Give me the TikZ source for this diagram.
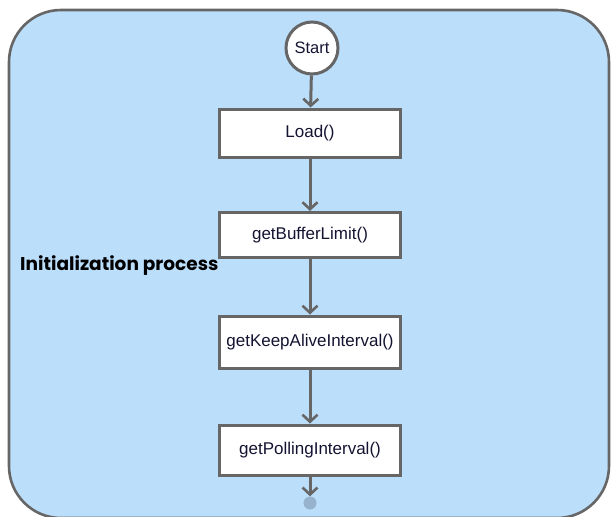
\documentclass[tikz,border=0pt]{standalone}
\usepackage{fontspec}
\setmainfont{Liberation Sans}
\newfontfamily\labelfont{Poppins}
\usetikzlibrary{arrows.meta}
\definecolor{bgblue}{RGB}{187,222,251}
\definecolor{edgegrey}{RGB}{102,102,102}
\definecolor{endblue}{RGB}{150,178,205}
\definecolor{txt}{RGB}{20,20,50}
\begin{document}
\begin{tikzpicture}[x=1pt,y=-1pt,
  stepbox/.style={draw=edgegrey,line width=3pt,fill=white,minimum width=181pt,minimum height=48pt,font=\fontsize{17}{19}\selectfont,text=txt,inner sep=0pt},
  flow/.style={draw=edgegrey,line width=3pt,-{Straight Barb[length=7pt,width=15pt,line width=2.6pt]}}]
\useasboundingbox (0,0) rectangle (611,517);
\draw[draw=edgegrey,line width=2.6pt,fill=bgblue,rounded corners=52pt] (9,10) rectangle (609,518);
\node[circle,draw=edgegrey,line width=3pt,fill=white,minimum size=52pt,inner sep=0pt,font=\fontsize{16.5}{18}\selectfont,text=txt] (start) at (312,48) {Start};
\node[stepbox] (load) at (310,133) {Load()};
\node[stepbox,minimum height=45pt] (buf) at (310,235) {getBufferLimit()};
\node[stepbox,minimum height=52pt] (keep) at (310,342) {getKeepAliveInterval()};
\node[stepbox,minimum height=50pt] (poll) at (310,450) {getPollingInterval()};
\node[circle,fill=endblue,minimum size=13pt,inner sep=0pt] (end) at (310,503) {};
\node[font=\labelfont\bfseries\fontsize{18.5}{20}\selectfont,anchor=west,inner sep=0pt] (lbl) at (20,266) {Initialization process};
\draw[flow] (start) -- (load);
\draw[flow] (load) -- (buf);
\draw[flow] (buf) -- (keep);
\draw[flow] (keep) -- (poll);
\draw[flow] (poll) -- (end);
\end{tikzpicture}
\end{document}
